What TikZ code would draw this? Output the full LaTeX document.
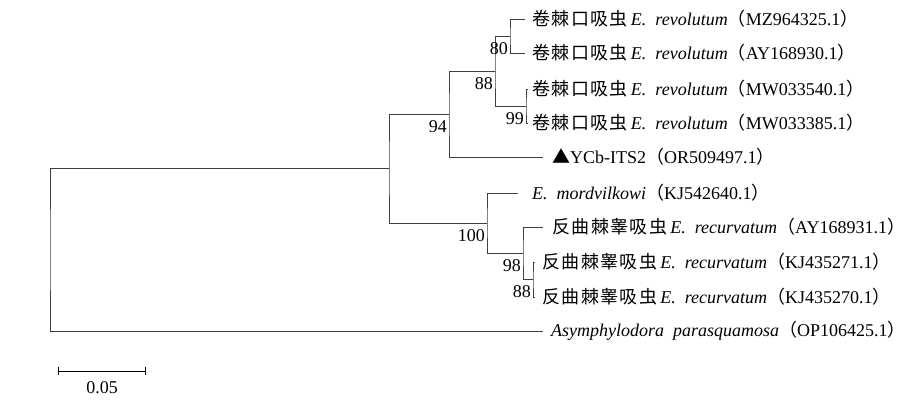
\documentclass[tikz,border=0pt]{standalone}
\usepackage{fontspec}
\setmainfont{Liberation Serif}
\newfontfamily\cjk[LetterSpace=8]{Noto Sans CJK SC}
\newcommand{\zh}[1]{{\cjk #1}}
\usetikzlibrary{positioning}
\begin{document}
\begin{tikzpicture}[x=1pt,y=-1pt,
    branch/.style={draw=black!75,line width=0.8pt},
    leaf/.style={inner sep=0pt,font=\fontsize{18}{20}\selectfont},
    boot/.style={anchor=north east,inner sep=0pt,xshift=-2pt,yshift=-6pt,font=\fontsize{18}{20}\selectfont}]
  \useasboundingbox (0,0) rectangle (915,402);
  % inner nodes of the tree
  \coordinate (root) at (50,249.5);
  \coordinate (n1) at (389,168);
  \coordinate (n94) at (449,114);
  \coordinate (n88) at (495,71);
  \coordinate (n80) at (510,36);
  \coordinate (n99) at (526,106);
  \coordinate (n100) at (487,223);
  \coordinate (n98) at (523,253);
  \coordinate (n88b) at (533,279.5);
  % tips
  \coordinate (t1) at (525,19);
  \coordinate (t2) at (525,53);
  \coordinate (t3) at (528,89);
  \coordinate (t4) at (528,123);
  \coordinate (t5) at (543,157);
  \coordinate (t6) at (518,193);
  \coordinate (t7) at (543,227);
  \coordinate (t8) at (535,262);
  \coordinate (t9) at (535,297);
  \coordinate (t10) at (543,331);
  % branches
  \draw [branch] (n1) -| (root) |- (t10);
  \draw [branch] (n94) -| (n1) |- (n100);
  \draw [branch] (n88) -| (n94) |- (t5);
  \draw [branch] (n80) -| (n88) |- (n99);
  \draw [branch] (t1) -| (n80) |- (t2);
  \draw [branch] (t3) -| (n99) |- (t4);
  \draw [branch] (t6) -| (n100) |- (n98);
  \draw [branch] (t7) -| (n98) |- (n88b);
  \draw [branch] (t8) -| (n88b) |- (t9);
  % bootstrap values
  \node [boot] (b80) at (n80) {80};
  \node [boot] (b88) at (n88) {88};
  \node [boot] (b99) at (n99) {99};
  \node [boot] (b94) at (n94) {94};
  \node [boot] (b100) at (n100) {100};
  \node [boot] (b98) at (n98) {98};
  \node [boot] (b88b) at (n88b) {88};
  % taxa
  \node [leaf,right=7pt of t1] (l1) {\zh{卷棘口吸虫}\,\textit{E.~~revolutum}\zh{（}MZ964325.1\zh{）}};
  \node [leaf,right=7pt of t2] (l2) {\zh{卷棘口吸虫}\,\textit{E.~~revolutum}\zh{（}AY168930.1\zh{）}};
  \node [leaf,right=4pt of t3] (l3) {\zh{卷棘口吸虫}\,\textit{E.~~revolutum}\zh{（}MW033540.1\zh{）}};
  \node [leaf,right=4pt of t4] (l4) {\zh{卷棘口吸虫}\,\textit{E.~~revolutum}\zh{（}MW033385.1\zh{）}};
  \node [leaf,right=9pt of t5] (l5) {\zh{▲}YCb-ITS2\zh{（}OR509497.1\zh{）}};
  \node [leaf,right=14pt of t6] (l6) {\textit{E.~~mordvilkowi}\zh{（}KJ542640.1\zh{）}};
  \node [leaf,right=9pt of t7] (l7) {\zh{反曲棘睾吸虫}\,\textit{E.~~recurvatum}\zh{（}AY168931.1\zh{）}};
  \node [leaf,right=7pt of t8] (l8) {\zh{反曲棘睾吸虫}\,\textit{E.~~recurvatum}\zh{（}KJ435271.1\zh{）}};
  \node [leaf,right=7pt of t9] (l9) {\zh{反曲棘睾吸虫}\,\textit{E.~~recurvatum}\zh{（}KJ435270.1\zh{）}};
  \node [leaf,right=8pt of t10] (l10) {\textit{Asymphylodora~~parasquamosa}\zh{（}OP106425.1\zh{）}};
  % scale bar
  \coordinate (s0) at (58,371);
  \coordinate (s1) at (146,371);
  \draw [|-|,line width=0.8pt] (s0) -- (s1) node [midway,below=10pt,inner sep=0pt,font=\fontsize{18}{20}\selectfont] (sl) {0.05};
\end{tikzpicture}
\end{document}
